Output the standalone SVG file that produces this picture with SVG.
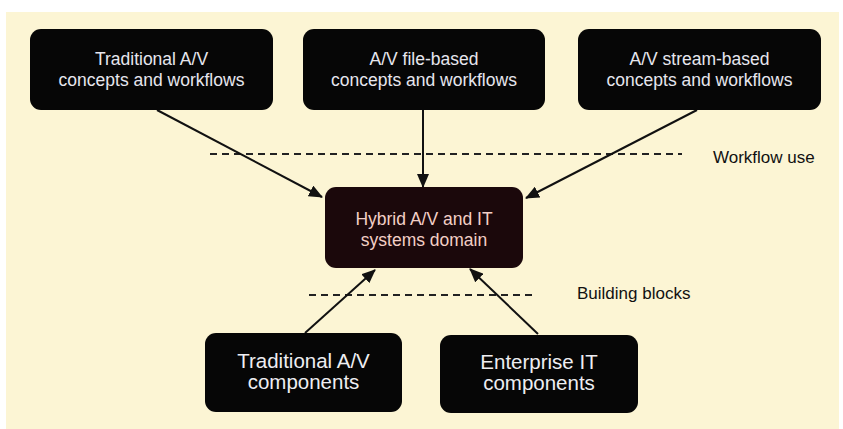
<svg xmlns="http://www.w3.org/2000/svg" width="843" height="429" viewBox="0 0 843 429">
<defs>
<marker id="ah" markerWidth="14" markerHeight="12" refX="13" refY="6" orient="auto" markerUnits="userSpaceOnUse">
<path d="M0,0 L14,6 L0,12 Z" fill="#111"/>
</marker>
<style>
.box{fill:#060606}
.hub{fill:#1b080b}
.t{font-family:"Liberation Sans",Arial,sans-serif;text-anchor:middle}
.top{font-size:17.5px;fill:#e6e6ee}
.hubt{font-size:17.5px;fill:#f3cfc6}
.bot{font-size:20.5px;fill:#eeeef2}
.lbl{font-family:"Liberation Sans",Arial,sans-serif;font-size:17px;fill:#111}
.dash{stroke:#222;stroke-width:2;stroke-dasharray:7 5;fill:none}
.con{stroke:#111;stroke-width:2;fill:none;marker-end:url(#ah)}
</style>
</defs>
<rect x="0" y="0" width="843" height="429" fill="#ffffff"/>
<rect x="6" y="12" width="833" height="417" fill="#fcf5d4"/>
<g id="dividers">
<line class="dash" x1="210" y1="154" x2="682" y2="154"/>
<line class="dash" x1="309" y1="295" x2="537" y2="295"/>
<text class="lbl" x="713" y="163">Workflow use</text>
<text class="lbl" x="577" y="299">Building blocks</text>
</g>
<g id="connectors">
<line class="con" x1="157" y1="110" x2="322" y2="197"/>
<line class="con" x1="423" y1="110" x2="423" y2="187"/>
<line class="con" x1="697" y1="110" x2="526" y2="198"/>
<line class="con" x1="305" y1="333" x2="375" y2="270"/>
<line class="con" x1="538" y1="334" x2="470" y2="269"/>
</g>
<g id="trad-av-workflows">
<rect class="box" x="30" y="29" width="243" height="81" rx="11"/>
<text class="t top" x="151.5" y="65">Traditional A/V</text>
<text class="t top" x="151.5" y="86">concepts and workflows</text>
</g>
<g id="file-based">
<rect class="box" x="303" y="29" width="242" height="81" rx="11"/>
<text class="t top" x="424" y="65">A/V file-based</text>
<text class="t top" x="424" y="86">concepts and workflows</text>
</g>
<g id="stream-based">
<rect class="box" x="578" y="29" width="243" height="81" rx="11"/>
<text class="t top" x="699.5" y="65">A/V stream-based</text>
<text class="t top" x="699.5" y="86">concepts and workflows</text>
</g>
<g id="hybrid">
<rect class="hub" x="325" y="187" width="198" height="81" rx="11"/>
<text class="t hubt" x="424" y="225">Hybrid A/V and IT</text>
<text class="t hubt" x="424" y="246">systems domain</text>
</g>
<g id="trad-av-components">
<rect class="box" x="205" y="333" width="197" height="79" rx="11"/>
<text class="t bot" x="303.5" y="368">Traditional A/V</text>
<text class="t bot" x="303.5" y="389">components</text>
</g>
<g id="enterprise-it">
<rect class="box" x="440" y="335" width="198" height="78" rx="11"/>
<text class="t bot" x="539" y="369">Enterprise IT</text>
<text class="t bot" x="539" y="390">components</text>
</g>
</svg>
